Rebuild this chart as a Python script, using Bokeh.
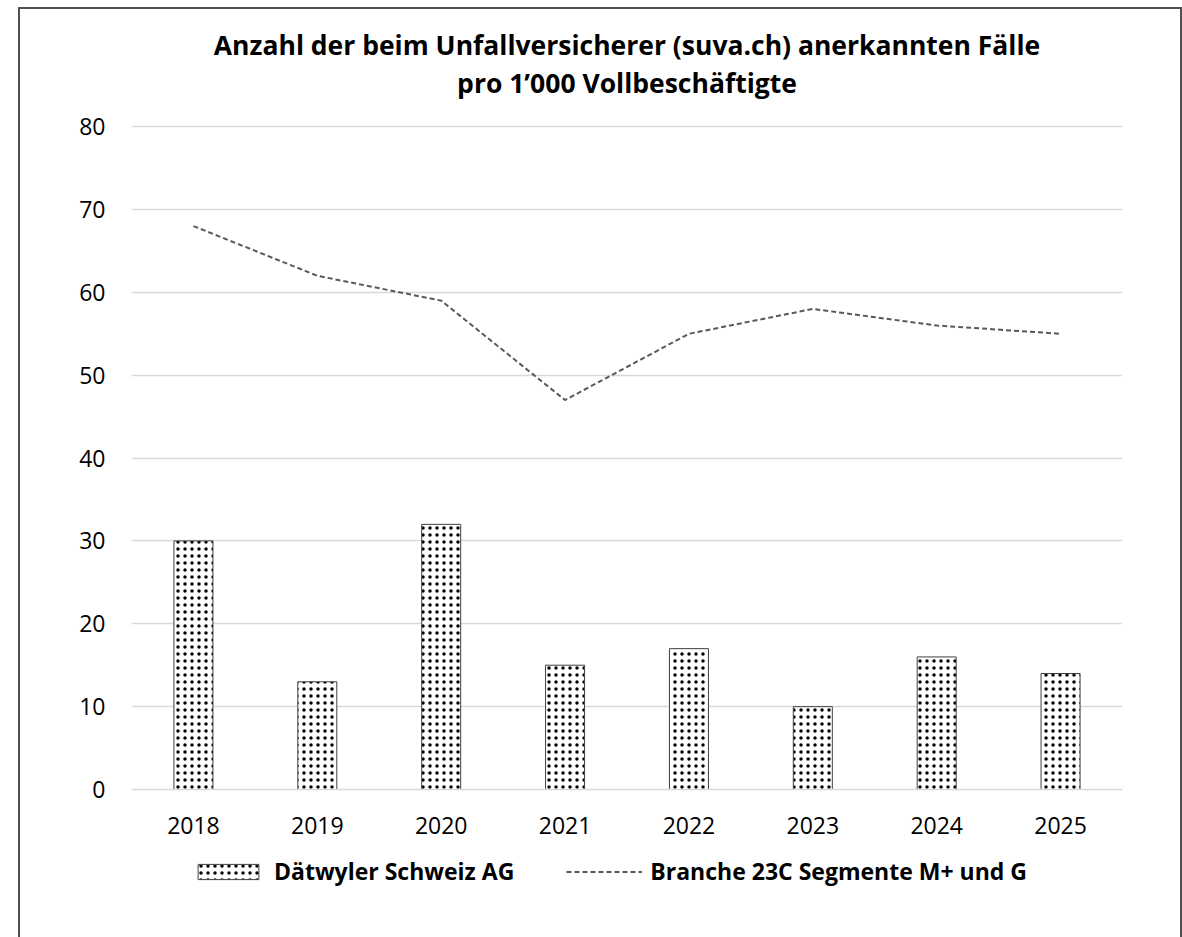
from bokeh.plotting import figure
from bokeh.models import FactorRange, Range1d, Label, Legend, LegendItem
from bokeh.layouts import column
from bokeh.embed import file_html
from bokeh.resources import INLINE

# ---- data ----
years = ["2018", "2019", "2020", "2021", "2022", "2023", "2024", "2025"]
daetwyler = [30, 13, 32, 15, 17, 10, 16, 14]
branche = [68, 62, 59, 47, 55, 58, 56, 55]
y_ticks = [0, 10, 20, 30, 40, 50, 60, 70, 80]

title_line1 = "Anzahl der beim Unfallversicherer (suva.ch) anerkannten Fälle"
title_line2 = "pro 1’000 Vollbeschäftigte"
label_bars = "Dätwyler Schweiz AG"
label_line = "Branche 23C Segmente M+ und G"

FONT = "Open Sans"
W = 1160
FRAME_W = 991  # frames of the stacked plots are aligned by the column

bar_style = dict(fill_color="white", line_color="#404040", line_width=1,
                 hatch_pattern="dot", hatch_scale=7, hatch_color="black",
                 hatch_weight=0.9)
line_style = dict(line_color="#595959", line_width=2, line_dash="5 3")


def blank(height):
    f = figure(width=W, height=height, x_range=Range1d(0, 1), y_range=Range1d(0, 1),
               x_axis_type=None, y_axis_type=None, output_backend="svg",
               toolbar_location=None, min_border=0, title=None)
    f.grid.visible = False
    f.outline_line_color = None
    f.background_fill_color = "white"
    f.border_fill_color = "white"
    return f


# ---- title strip ----
pt = blank(95)
for txt, yoff in ((title_line1, 60), (title_line2, 22)):
    pt.add_layout(Label(x=FRAME_W / 2, y=yoff, x_units="screen", y_units="screen",
                        text=txt, text_align="center", text_baseline="alphabetic",
                        text_font=FONT, text_font_size="26.5px",
                        text_font_style="bold", text_color="black"))

# ---- main chart ----
p = figure(x_range=FactorRange(factors=years), y_range=(0, 80.5),
           width=W, height=741, title=None,
           output_backend="svg", toolbar_location=None,
           min_border_left=111, min_border_right=58,
           min_border_top=18, min_border_bottom=56)
p.outline_line_color = None
p.background_fill_color = "white"
p.border_fill_color = "white"

p.vbar(x=years, top=daetwyler, width=0.315, **bar_style)
p.line(x=years, y=branche, **line_style)

p.yaxis.ticker = y_ticks
p.yaxis.axis_line_color = None
p.yaxis.major_tick_line_color = None
p.yaxis.minor_tick_line_color = None
p.yaxis.major_label_standoff = 20
p.yaxis.major_label_text_font = FONT
p.yaxis.major_label_text_font_size = "23px"
p.yaxis.major_label_text_color = "black"

p.xaxis.axis_line_color = "#d9d9d9"
p.xaxis.axis_line_width = 1.5
p.xaxis.major_tick_line_color = None
p.xaxis.minor_tick_line_color = None
p.xaxis.major_label_standoff = 21
p.xaxis.major_label_text_font = FONT
p.xaxis.major_label_text_font_size = "23px"
p.xaxis.major_label_text_color = "black"

p.xgrid.grid_line_color = None
p.ygrid.grid_line_color = "#d9d9d9"
p.ygrid.grid_line_width = 1.5

# ---- legend strip (proxy glyphs placed outside the visible range) ----
pl = blank(92)
lb = pl.vbar(x=[-10], top=[-10], width=0.3, **bar_style)
ll = pl.line(x=[-10, -9], y=[-10, -10], **line_style)
legend = Legend(items=[LegendItem(label=label_bars, renderers=[lb]),
                       LegendItem(label=label_line, renderers=[ll])],
                orientation="horizontal", location=(59, 50),
                glyph_width=76, glyph_height=19, label_standoff=8,
                spacing=52, padding=0, margin=0,
                label_text_font=FONT, label_text_font_size="23px",
                label_text_font_style="bold", label_text_color="black",
                border_line_color=None, background_fill_alpha=0)
pl.add_layout(legend, "center")

layout = column(pt, p, pl, spacing=0)
layout.margin = (9, 0, 0, 20)
layout.styles = {"outline": "2px solid #505050"}

open("out.html", "w").write(file_html(layout, INLINE))
